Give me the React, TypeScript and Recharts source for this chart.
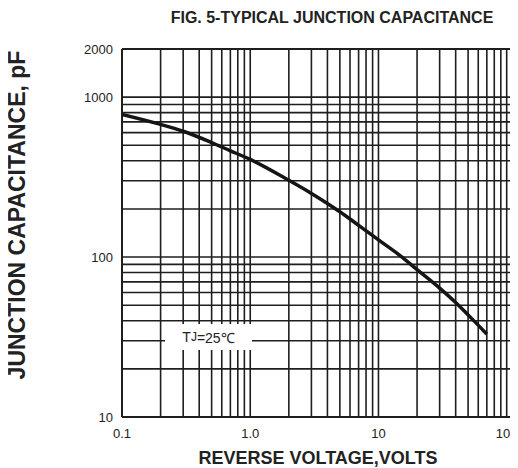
import React from 'react';
import { LineChart, Line, XAxis, YAxis, ReferenceLine } from 'recharts';

// (Tj = 25°C)
const voltage = [0.1, 0.2, 0.3, 0.5, 0.7, 1, 2, 3, 5, 7, 10, 15, 20, 30, 40, 50, 70];
const capacitance = [780, 675, 612, 520, 462, 408, 302, 250, 192, 158, 128, 101, 83.5, 64, 52, 43.5, 33];

const xTicks = [0.1, 1, 10, 100];
const xTickLabels = ['0.1', '1.0', '10', '100'];
const yTicks = [10, 100, 1000, 2000];

const xGrid = [
    0.2, 0.3, 0.4, 0.5, 0.6, 0.7, 0.8, 0.9, 1,
    2, 3, 4, 5, 6, 7, 8, 9, 10,
    20, 30, 40, 50, 60, 70, 80, 90, 100,
];
const yGrid = [
    20, 30, 40, 50, 60, 70, 80, 90, 100,
    200, 300, 400, 500, 600, 700, 800, 900, 1000,
];

const xDomain: [number, number] = [0.1, 110];
const yDomain: [number, number] = [10, 2000];

const data = voltage.map((v, i) => ({ v, c: capacitance[i] }));

const font = '"Liberation Sans", Arial, sans-serif';
const gridColor = '#1e1e1e';

export default function App() {
    const xLabel = (val: number) => xTickLabels[xTicks.indexOf(val)] ?? String(val);

    return (
        <div style={{ position: 'relative', width: 510, height: 460, fontFamily: font }}>
            <LineChart
                width={510}
                height={460}
                data={data}
                margin={{ top: 41, right: 6, bottom: 21, left: 54 }}
            >
                <XAxis
                    dataKey="v"
                    type="number"
                    scale="log"
                    domain={xDomain}
                    ticks={xTicks}
                    tickFormatter={xLabel}
                    allowDataOverflow
                    axisLine={false}
                    tickLine={false}
                    tickMargin={6}
                    height={30}
                    tick={{ fontSize: 13, fill: '#222', fontFamily: font }}
                />
                <YAxis
                    dataKey="c"
                    type="number"
                    scale="log"
                    domain={yDomain}
                    ticks={yTicks}
                    allowDataOverflow
                    axisLine={false}
                    tickLine={false}
                    tickMargin={3}
                    width={60}
                    tick={{ fontSize: 13, fill: '#222', fontFamily: font }}
                />
                {xGrid.map((x) => (
                    <ReferenceLine key={'x' + x} x={x} stroke={gridColor} strokeWidth={1.6} />
                ))}
                {yGrid.map((y) => (
                    <ReferenceLine key={'y' + y} y={y} stroke={gridColor} strokeWidth={1.6} />
                ))}
                <ReferenceLine x={xDomain[0]} stroke={gridColor} strokeWidth={2} />
                <ReferenceLine x={xDomain[1]} stroke={gridColor} strokeWidth={2} />
                <ReferenceLine y={yDomain[0]} stroke={gridColor} strokeWidth={2} />
                <ReferenceLine y={yDomain[1]} stroke={gridColor} strokeWidth={2} />
                <Line
                    type="monotone"
                    dataKey="c"
                    stroke="#151515"
                    strokeWidth={3.5}
                    dot={false}
                    isAnimationActive={false}
                />
            </LineChart>

            <div
                style={{
                    position: 'absolute',
                    left: 157,
                    top: 316,
                    width: 87,
                    height: 26,
                    background: '#fff',
                    fontSize: 14,
                    color: '#222',
                    display: 'flex',
                    alignItems: 'center',
                    justifyContent: 'center',
                }}
            >
                T<span style={{ fontSize: 12 }}>J</span>=25℃
            </div>

            <div
                style={{
                    position: 'absolute',
                    left: 124,
                    top: 0,
                    width: 400,
                    textAlign: 'center',
                    fontSize: 16,
                    fontWeight: 'bold',
                    color: '#222',
                    lineHeight: '20px',
                }}
            >
                FIG. 5-TYPICAL JUNCTION CAPACITANCE
            </div>

            <div
                style={{
                    position: 'absolute',
                    left: 9,
                    top: 207,
                    width: 0,
                    height: 0,
                }}
            >
                <div
                    style={{
                        position: 'absolute',
                        transform: 'translate(-50%, -50%) rotate(-90deg)',
                        whiteSpace: 'nowrap',
                        fontSize: 23,
                        fontWeight: 'bold',
                        color: '#222',
                    }}
                >
                    JUNCTION CAPACITANCE, pF
                </div>
            </div>

            <div
                style={{
                    position: 'absolute',
                    left: 160,
                    top: 439,
                    width: 300,
                    textAlign: 'center',
                    fontSize: 18,
                    fontWeight: 'bold',
                    color: '#222',
                    lineHeight: '22px',
                }}
            >
                REVERSE VOLTAGE,VOLTS
            </div>
        </div>
    );
}
